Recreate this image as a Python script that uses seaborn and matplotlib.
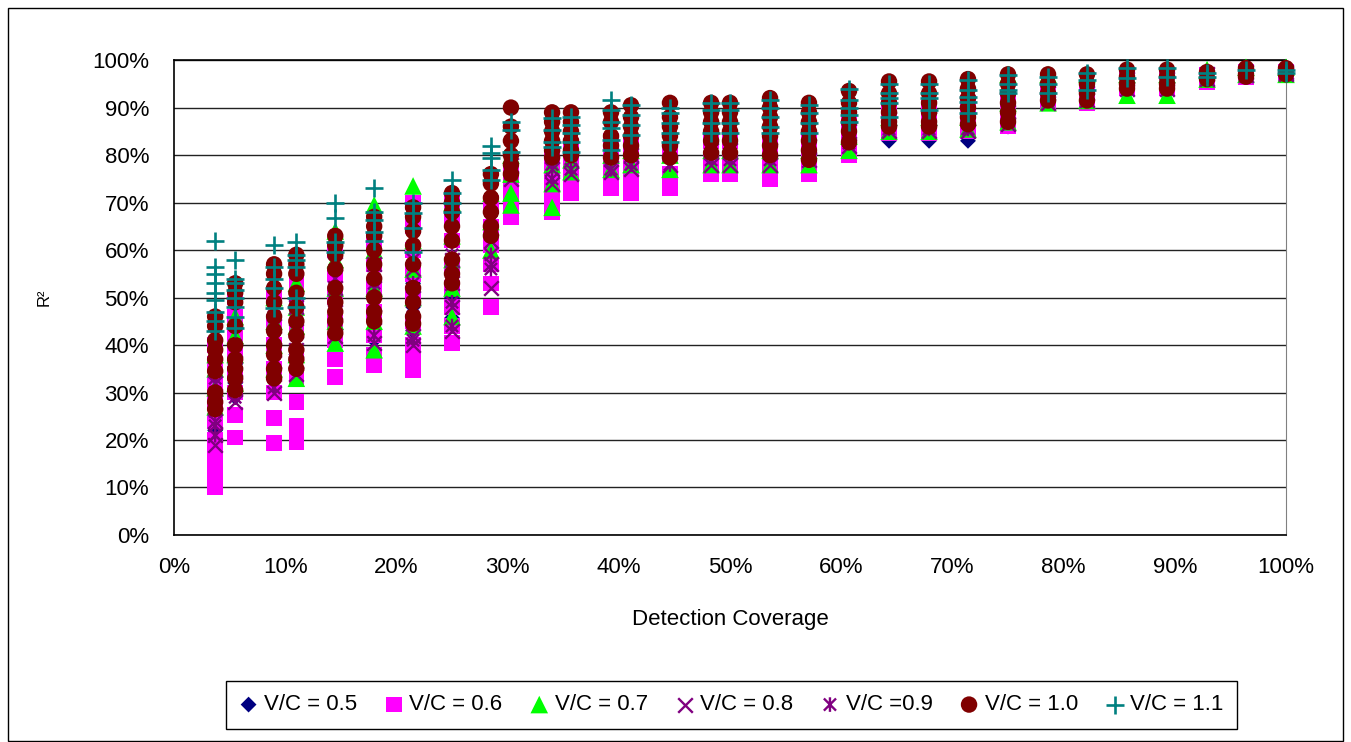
import pandas as pd
import numpy as np
import matplotlib
matplotlib.use("Agg")
import matplotlib.pyplot as plt
import seaborn as sns
from matplotlib.ticker import PercentFormatter
from matplotlib.path import Path
from matplotlib.patches import Rectangle

# Detection coverage (%) of each column of points
coverage = [3.7, 5.5, 9.0, 11.0, 14.5, 18.0, 21.5, 25.0, 28.5, 30.3, 34.0, 35.7,
            39.3, 41.1, 44.6, 48.3, 50.0, 53.6, 57.1, 60.7, 64.3, 67.9, 71.4, 75.0,
            78.6, 82.1, 85.7, 89.3, 92.9, 96.4, 100.0]

# R^2 values (%) read per column, one list per V/C series
vc05 = [[20, 22, 24, 27], [29, 32, 36], [31, 35, 39], [35, 38, 42], [41, 45, 50],
        [41, 46, 52], [43, 48, 53], [45.7, 50, 55], [61, 66], [74, 78], [76, 80],
        [77, 80], [78, 81], [75.4, 79, 82], [76, 79, 82], [79, 82], [79, 82],
        [79, 82], [79, 82], [81, 84], [83, 86], [83, 86], [83, 86], [86, 89],
        [91, 93], [91.5, 93], [94, 96], [94, 96], [95.5, 97], [96.5, 97.5], [96.8, 97.5]]

vc06 = [[10, 12.5, 15, 17.5, 20, 24, 28, 32, 36, 40], [20.5, 25.3, 30, 34, 38, 42, 46, 50],
        [19.4, 24.6, 30, 35, 40, 45, 50], [19.6, 23, 28, 33, 38, 43, 48, 53],
        [33.3, 37, 41, 45, 50, 55, 60], [35.8, 38, 42, 47, 52, 57, 62],
        [34.7, 37, 40, 45, 50, 55, 60, 65, 70], [40.4, 44, 48, 52, 57, 62, 67, 70],
        [48, 53, 57, 61, 65, 70], [67, 70, 73, 76], [68, 71, 74, 77, 80], [72, 75, 78, 82],
        [73, 76, 79, 83], [72, 75, 78, 82], [73, 76, 80], [76, 79, 83], [76, 79, 83],
        [75, 78, 82], [76, 79, 83], [80, 83, 87], [84.5, 87, 90], [84.5, 87, 90],
        [85, 88, 91], [86, 89, 92], [91, 93], [91, 93], [94, 96], [94, 96],
        [95.4, 97], [96.4, 97.5], [96.8, 97.5]]

vc07 = [[27, 31, 35, 38], [32, 38, 42, 46], [35, 40, 45, 50], [33, 38, 44, 48, 53],
        [40.4, 45, 52, 58, 64], [39, 45, 52, 60, 69.5], [44, 50, 56, 62, 73.5],
        [46, 52, 58, 63, 70], [60, 66, 72], [69.5, 72, 76, 80], [69, 74, 78], [76.5, 79],
        [77, 80], [78, 81], [77, 80], [78, 81], [78, 81], [78, 81], [78, 81], [81, 84],
        [85, 88], [85, 88], [85.5, 88], [87, 91, 97], [91, 97], [91.5, 97], [92.6, 97],
        [92.6, 97], [96, 98], [97, 98.5], [97, 98.5]]

vc08 = [[19, 21, 24, 28, 32], [28, 31, 35, 39], [30, 34, 39, 44], [34, 39, 43, 48],
        [42, 47, 52, 57], [40.4, 46, 52, 57], [40, 42, 50, 56], [43, 48, 53, 58],
        [52, 57, 62], [75, 78], [74, 77], [76, 79], [76.5, 80], [77, 80], [78, 81],
        [78, 81], [78, 81], [78, 81], [79, 82], [82, 85], [85, 87.5], [85, 87.5],
        [85, 87.5], [86.5, 89], [91, 93], [91.5, 93], [94, 96], [94, 96], [96, 97],
        [96.8, 97.5], [97, 97.5]]

vc09 = [[21, 23, 26, 30, 33], [29, 32, 36, 40], [31, 36, 41, 46], [36, 40, 44, 49],
        [44, 49, 54, 58], [42, 48, 53, 58], [41, 46, 53, 58], [44, 49, 54, 59],
        [56, 59, 66], [76, 79], [75, 78], [77, 80], [77, 80], [78, 81], [78, 81],
        [79, 82], [79, 82], [79, 82], [80, 83], [82.5, 85], [85.5, 88], [85.5, 88],
        [85.5, 88], [87, 89.5], [91.5, 93], [92, 93.5], [94.5, 96], [94.5, 96],
        [96, 97], [97, 97.5], [97, 97.5]]

vc10 = [[46, 44, 41, 39, 37, 34.5, 30, 28, 26.5], [53, 51, 49, 44, 40, 37, 35, 33, 30.5],
        [57, 55, 52, 49, 46, 43, 40, 38, 35, 33], [59, 57, 55, 51, 48, 45, 42, 39, 37, 35],
        [63, 61, 59, 56, 52, 49, 47, 45, 42.5], [67, 65, 63, 60, 57, 54, 50, 47, 45],
        [69, 67, 64, 61, 57, 52, 49, 46, 44.5], [72, 70, 68, 65, 62, 58, 55, 53],
        [76, 74, 71, 68, 65, 63], [90, 86, 83, 80, 78, 76], [89, 87, 85, 83, 81, 79.5],
        [89, 87, 85, 83, 81, 80], [89, 87, 84, 82, 79.5], [90.5, 88, 86, 84, 82, 80],
        [91, 88, 86, 84, 82, 79.5], [91, 89, 87, 85, 83, 80.5], [91, 89, 87, 85, 83, 80.5],
        [92, 90, 88, 86, 84, 82, 80], [91, 89, 87, 85, 83, 81, 79],
        [93.5, 91, 89, 87, 85, 82.7], [95.5, 93, 91, 89, 87, 86], [95.5, 93, 91, 89, 87, 86],
        [96, 94, 92, 90, 88, 86.5], [97, 95, 93, 91, 89, 87], [97, 95, 93, 91.5],
        [97, 95, 93, 91.5], [98, 96.5, 95, 94], [98, 96.5, 95, 94], [97.5, 96],
        [98.3, 97, 96.5], [98.3, 97]]

vc11 = [[62, 56.5, 55, 53, 51, 49.5, 47, 45, 43], [58, 54, 53, 51.5, 50, 48, 46, 43.5],
        [61, 56.5, 54, 52, 47.8], [61.7, 59, 58, 56.5, 50, 48], [70, 66.7, 61.7, 59.6],
        [73, 68, 66.3, 63.8, 62], [70, 67.8, 64.6, 59.6], [74.7, 72, 70, 68],
        [82, 80.4, 79.4, 76.8, 74.7], [87, 85.3, 80.6], [87.8, 85.3, 82.7, 81.7],
        [88, 86.3, 84.6, 82.7, 80.6], [91.6, 89.5, 87, 85.7, 83.2, 81],
        [90.5, 88.4, 86.3, 84.2], [90, 88.8, 86.7, 84.6, 82.7], [91, 89.5, 86.7, 84.6],
        [91, 89.5, 86.7, 84.6], [91.6, 90, 88, 85.9, 84.6], [90.5, 88.8, 86.7, 84.6],
        [94, 91.6, 90, 88.4, 87], [95, 93, 92, 91, 88], [95, 93, 92, 89.5],
        [95.8, 93.7, 92.2, 91.2, 88.8], [96.8, 95, 93.7, 93], [96.5, 95, 93],
        [97.2, 95.8, 93.7], [98.3, 96.2], [98.3, 96.5], [97.2, 96.5], [97.9], [97.9, 97.3]]

series_names = ["V/C = 0.5", "V/C = 0.6", "V/C = 0.7", "V/C = 0.8",
                "V/C =0.9", "V/C = 1.0", "V/C = 1.1"]
series_values = [vc05, vc06, vc07, vc08, vc09, vc10, vc11]
series_colors = ["#000080", "#FF00FF", "#00FF00", "#800080", "#800080", "#800000", "#008080"]

# long table for seaborn
rows = []
for name, vals in zip(series_names, series_values):
    for x, ys in zip(coverage, vals):
        for y in ys:
            rows.append((x, y, name))
df = pd.DataFrame(rows, columns=["coverage", "r2", "series"])

# asterisk marker like excel's (x with a vertical bar)
asterisk = Path([(-0.5, -0.5), (0.5, 0.5), (-0.5, 0.5), (0.5, -0.5), (0, -0.6), (0, 0.6)],
                [Path.MOVETO, Path.LINETO, Path.MOVETO, Path.LINETO, Path.MOVETO, Path.LINETO])

marker_styles = {
    "V/C = 0.5": dict(marker="D", s=65, linewidth=0),
    "V/C = 0.6": dict(marker="s", s=125, linewidth=0),
    "V/C = 0.7": dict(marker="^", s=160, linewidth=0),
    "V/C = 0.8": dict(marker="x", s=110, linewidth=1.7),
    "V/C =0.9": dict(marker=asterisk, s=110, linewidth=1.7),
    "V/C = 1.0": dict(marker="o", s=140, linewidth=0),
    "V/C = 1.1": dict(marker="+", s=160, linewidth=1.9),
}
line_markers = ["V/C = 0.8", "V/C =0.9", "V/C = 1.1"]

sns.set_style("white")
plt.rcParams["font.family"] = ["Liberation Sans", "DejaVu Sans"]
plt.rcParams["text.color"] = "black"

fig = plt.figure(figsize=(13.51, 7.42), dpi=100)
ax = fig.add_axes([0.1288, 0.279, 0.8231, 0.640])

for name, color in zip(series_names, series_colors):
    sub = df[df["series"] == name]
    if name in line_markers:
        kw = dict(edgecolor=color, facecolor="none" if name == "V/C =0.9" else color)
    else:
        kw = dict(edgecolor="none")
    sns.scatterplot(data=sub, x="coverage", y="r2", color=color, ax=ax,
                    label=name, clip_on=False, zorder=3, **kw, **marker_styles[name])

ax.set_xlim(0, 100)
ax.set_ylim(0, 100)
ax.set_xticks(np.arange(0, 101, 10))
ax.set_yticks(np.arange(0, 101, 10))
ax.xaxis.set_major_formatter(PercentFormatter(decimals=0))
ax.yaxis.set_major_formatter(PercentFormatter(decimals=0))
ax.tick_params(axis="both", direction="out", length=6, width=1, color="black",
               labelsize=16, labelcolor="black")
ax.tick_params(axis="x", pad=10)
ax.tick_params(axis="y", pad=12)
ax.yaxis.grid(True, color="#222222", linewidth=1)
ax.set_axisbelow(True)
for side in ["left", "bottom", "top"]:
    ax.spines[side].set_color("black")
    ax.spines[side].set_linewidth(1.2)
ax.spines["right"].set_color("#808080")

ax.set_xlabel("Detection Coverage", fontsize=16, labelpad=22, color="black")
ax.set_ylabel("R²", fontsize=12, color="black")
ax.yaxis.set_label_coords(-0.11, 0.5)

handles, labels = ax.get_legend_handles_labels()
ax.get_legend().remove()
fig.legend(handles, labels, loc="center", bbox_to_anchor=(0.5415, 0.05), ncol=7,
           fontsize=16, frameon=True, fancybox=False, edgecolor="black", framealpha=1,
           handlelength=0.8, handletextpad=0.3, columnspacing=1.25, borderpad=0.6,
           borderaxespad=0, scatterpoints=1, labelcolor="black")

# outer chart border
fig.patches.append(Rectangle((0.006, 0.002), 0.988, 0.987, transform=fig.transFigure,
                             fill=False, edgecolor="black", linewidth=1))

fig.savefig("out.png", dpi=100)
